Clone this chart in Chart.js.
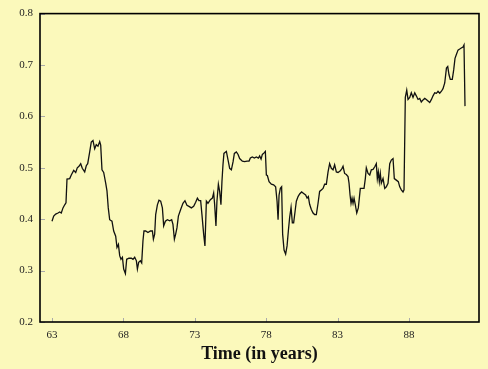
<!DOCTYPE html>
<html>
<head>
<meta charset="utf-8">
<script src="https://cdn.jsdelivr.net/npm/chart.js@4/dist/chart.umd.min.js"></script>
<style>
html, body { margin: 0; padding: 0; background: #fbf9bb; }
#grafico { display: block; }
</style>
</head>
<body>
<canvas id="grafico" width="488" height="369"></canvas>
<script>
// serie (anos decimais)
var anos = [63.00,63.12,63.26,63.42,63.54,63.65,63.77,63.89,63.98,64.05,64.24,64.35,64.52,64.66,64.77,64.89,65.01,65.12,65.29,65.40,
  65.50,65.64,65.75,65.87,65.99,66.10,66.22,66.34,66.41,66.50,66.62,66.76,66.85,66.94,67.04,67.20,67.32,67.46,67.55,67.65,
  67.74,67.83,67.93,68.02,68.14,68.23,68.39,68.56,68.67,68.79,68.91,68.98,69.07,69.19,69.28,69.37,69.44,69.56,69.72,69.89,
  70.03,70.10,70.19,70.26,70.38,70.49,70.61,70.73,70.82,70.94,71.08,71.24,71.38,71.47,71.57,71.66,71.75,71.85,72.01,72.17,
  72.31,72.45,72.59,72.76,72.92,73.06,73.18,73.29,73.41,73.50,73.62,73.71,73.81,73.92,74.09,74.23,74.32,74.39,74.48,74.55,
  74.65,74.74,74.83,74.90,74.97,75.04,75.21,75.35,75.44,75.56,75.68,75.77,75.91,76.03,76.14,76.33,76.49,76.66,76.80,76.89,
  77.03,77.17,77.31,77.45,77.54,77.64,77.73,77.85,77.94,78.01,78.08,78.20,78.36,78.52,78.66,78.76,78.83,78.90,78.99,79.08,
  79.15,79.25,79.36,79.46,79.55,79.64,79.74,79.83,79.92,80.02,80.11,80.23,80.34,80.48,80.62,80.76,80.86,80.95,81.04,81.16,
  81.28,81.39,81.51,81.63,81.74,81.86,81.98,82.09,82.21,82.33,82.44,82.56,82.68,82.79,82.91,83.03,83.19,83.31,83.38,83.49,
  83.61,83.73,83.80,83.87,83.94,84.01,84.08,84.15,84.24,84.34,84.45,84.52,84.59,84.71,84.85,84.94,85.01,85.13,85.25,85.36,
  85.48,85.60,85.71,85.78,85.85,85.92,85.99,86.06,86.18,86.30,86.41,86.53,86.65,86.76,86.88,86.97,87.11,87.25,87.35,87.46,
  87.58,87.65,87.74,87.84,87.93,88.05,88.16,88.28,88.40,88.51,88.63,88.75,88.86,88.98,89.10,89.21,89.33,89.45,89.57,89.68,
  89.80,89.92,90.03,90.15,90.27,90.38,90.50,90.62,90.71,90.80,90.89,91.03,91.13,91.22,91.31,91.43,91.55,91.66,91.78,91.85,
  91.92];
var valores = [0.396,0.406,0.410,0.412,0.414,0.412,0.422,0.428,0.432,0.478,0.479,0.486,0.495,0.491,0.500,0.503,0.508,0.499,0.492,0.504,
  0.508,0.531,0.550,0.553,0.537,0.545,0.542,0.551,0.544,0.496,0.491,0.470,0.455,0.422,0.399,0.396,0.377,0.367,0.345,0.351,
  0.329,0.322,0.326,0.303,0.294,0.322,0.324,0.324,0.322,0.326,0.319,0.303,0.316,0.319,0.315,0.358,0.377,0.377,0.374,0.377,
  0.377,0.361,0.371,0.409,0.428,0.437,0.435,0.422,0.387,0.396,0.399,0.397,0.399,0.390,0.361,0.371,0.383,0.406,0.419,0.431,
  0.436,0.427,0.425,0.422,0.425,0.433,0.441,0.436,0.436,0.409,0.371,0.348,0.435,0.431,0.438,0.441,0.451,0.428,0.387,0.435,
  0.468,0.454,0.428,0.473,0.505,0.528,0.532,0.512,0.499,0.496,0.512,0.528,0.531,0.526,0.518,0.513,0.512,0.513,0.513,0.519,
  0.521,0.519,0.521,0.519,0.523,0.517,0.526,0.529,0.532,0.486,0.485,0.473,0.468,0.467,0.463,0.435,0.399,0.447,0.460,0.463,
  0.371,0.340,0.332,0.348,0.377,0.403,0.423,0.393,0.393,0.415,0.435,0.444,0.449,0.453,0.450,0.447,0.441,0.444,0.429,0.419,
  0.412,0.409,0.409,0.431,0.454,0.457,0.460,0.468,0.468,0.492,0.508,0.499,0.496,0.506,0.492,0.491,0.494,0.499,0.503,0.489,
  0.487,0.483,0.470,0.447,0.431,0.441,0.431,0.441,0.428,0.412,0.422,0.441,0.460,0.460,0.460,0.479,0.500,0.489,0.486,0.496,
  0.497,0.502,0.508,0.479,0.492,0.473,0.489,0.470,0.479,0.460,0.463,0.470,0.508,0.515,0.518,0.479,0.476,0.473,0.463,0.457,
  0.453,0.457,0.637,0.651,0.633,0.637,0.646,0.637,0.646,0.640,0.633,0.635,0.628,0.632,0.635,0.633,0.630,0.627,0.633,0.640,
  0.646,0.645,0.649,0.645,0.649,0.654,0.665,0.694,0.697,0.681,0.672,0.672,0.691,0.713,0.720,0.729,0.731,0.733,0.735,0.739,
  0.620];
var ticksX = [63, 68, 73, 78, 83, 88];
var ticksY = [0.2, 0.3, 0.4, 0.5, 0.6, 0.7, 0.8];
var tituloX = 'Time (in years)';

var pontos = anos.map(function(a, i){ return {x: a, y: valores[i]}; });

// moldura preta e tracinhos para dentro
var moldura = {
  id: 'moldura',
  afterDatasetsDraw: function(chart){
    var ctx = chart.ctx, area = chart.chartArea;
    var sx = chart.scales.x, sy = chart.scales.y;
    ctx.save();
    ctx.strokeStyle = '#aaa';
    ctx.lineWidth = 1;
    ticksY.forEach(function(v){
      var p = Math.round(sy.getPixelForValue(v)) + 0.5;
      ctx.beginPath(); ctx.moveTo(area.left, p); ctx.lineTo(area.left + 5, p); ctx.stroke();
    });
    ticksX.forEach(function(v){
      var p = Math.round(sx.getPixelForValue(v)) + 0.5;
      ctx.beginPath(); ctx.moveTo(p, area.bottom); ctx.lineTo(p, area.bottom - 4); ctx.stroke();
    });
    ctx.strokeStyle = '#000';
    ctx.lineWidth = 1.6;
    ctx.strokeRect(area.left, area.top, area.right - area.left, area.bottom - area.top);
    ctx.restore();
  }
};

new Chart(document.getElementById('grafico'), {
  type: 'line',
  data: {
    datasets: [{
      data: pontos,
      borderColor: '#111',
      borderWidth: 1.3,
      pointRadius: 0,
      tension: 0,
      fill: false
    }]
  },
  options: {
    responsive: false,
    animation: false,
    layout: { padding: { top: 10, right: 9, left: 0, bottom: 0 } },
    plugins: { legend: { display: false }, tooltip: { enabled: false } },
    scales: {
      x: {
        type: 'linear',
        min: 62.16,
        max: 92.9,
        afterBuildTicks: function(s){ s.ticks = ticksX.map(function(v){ return {value: v}; }); },
        afterFit: function(s){ s.height = 47; },
        grid: { display: false, drawTicks: false },
        border: { display: false },
        ticks: {
          padding: 7,
          color: '#222',
          font: { family: '"Liberation Serif", "Times New Roman", serif', size: 11 },
          callback: function(v){ return String(v); }
        },
        title: {
          display: true,
          text: tituloX,
          color: '#111',
          font: { family: '"Liberation Serif", "Times New Roman", serif', size: 18, weight: 'bold' },
          padding: { top: 0, bottom: 4 }
        }
      },
      y: {
        min: 0.2,
        max: 0.8,
        afterBuildTicks: function(s){ s.ticks = ticksY.map(function(v){ return {value: v}; }); },
        afterFit: function(s){ s.width = 40; },
        grid: { display: false, drawTicks: false },
        border: { display: false },
        ticks: {
          padding: 7,
          color: '#222',
          font: { family: '"Liberation Serif", "Times New Roman", serif', size: 11 },
          callback: function(v){ return v.toFixed(1); }
        }
      }
    }
  },
  plugins: [moldura]
});
</script>
</body>
</html>
